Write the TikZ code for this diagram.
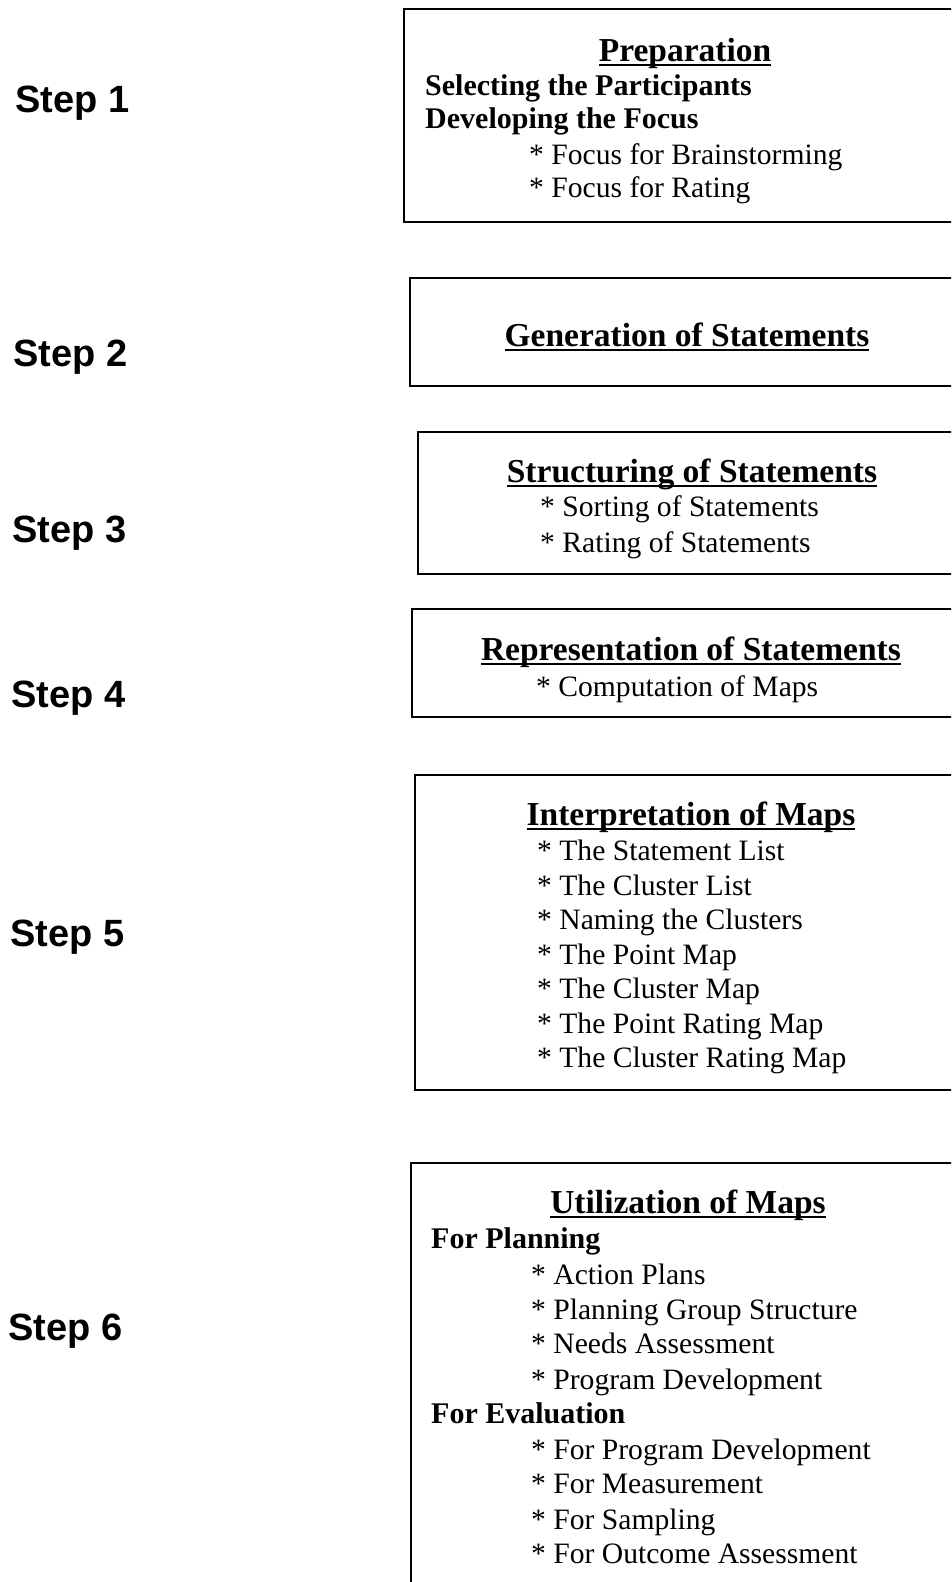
\documentclass[tikz,border=0pt]{standalone}
\usepackage{fontspec}
\setmainfont{Liberation Serif}
\newfontfamily\stepfont{Liberation Sans}
\newcommand\uln[1]{\setbox0\hbox{#1}\rlap{\rule[-5pt]{\wd0}{2.4pt}}\box0}
\tikzset{
  stepl/.style={anchor=base west, inner sep=0pt, font=\stepfont\bfseries\fontsize{38}{44}\selectfont},
  head/.style={anchor=base, inner sep=0pt, font=\bfseries\fontsize{33.5}{38}\selectfont},
  boldl/.style={anchor=base west, inner sep=0pt, font=\bfseries\fontsize{30}{34}\selectfont},
  item/.style={anchor=base west, inner sep=0pt, font=\fontsize{29.6}{34}\selectfont},
  box/.style={draw, line width=2pt},
}
\begin{document}
\begin{tikzpicture}[x=1pt,y=-1pt]
\clip (0,0) rectangle (951,1582);
\fill[white] (0,0) rectangle (951,1582);
% boxes
\draw[box] (960,9) -- (404,9) -- (404,222) -- (960,222);
\draw[box] (960,278) -- (410,278) -- (410,386) -- (960,386);
\draw[box] (960,432) -- (418,432) -- (418,574) -- (960,574);
\draw[box] (960,609) -- (412,609) -- (412,717) -- (960,717);
\draw[box] (960,775) -- (415,775) -- (415,1090) -- (960,1090);
\draw[box] (960,1163) -- (411,1163) -- (411,1600);
% step labels
\node[stepl] (s1) at (15,112) {Step 1};
\node[stepl] (s2) at (13,366) {Step 2};
\node[stepl] (s3) at (12,542) {Step 3};
\node[stepl] (s4) at (11,707) {Step 4};
\node[stepl] (s5) at (10,946) {Step 5};
\node[stepl] (s6) at (8,1340) {Step 6};
% box 1
\node[head] (h1) at (685,61) {\uln{Preparation}};
\node[boldl] (b1a) at (425,95) {Selecting the Participants};
\node[boldl] (b1b) at (425,128) {Developing the Focus};
\node[item] (i1a) at (529,164) {* Focus for Brainstorming};
\node[item] (i1b) at (529,197) {* Focus for Rating};
% box 2
\node[head] (h2) at (687,346) {\uln{Generation of Statements}};
% box 3
\node[head] (h3) at (692,482) {\uln{Structuring of Statements}};
\node[item] (i3a) at (540,516) {* Sorting of Statements};
\node[item] (i3b) at (540,552) {* Rating of Statements};
% box 4
\node[head] (h4) at (691,660) {\uln{Representation of Statements}};
\node[item] (i4a) at (536,696) {* Computation of Maps};
% box 5
\node[head] (h5) at (691,825) {\uln{Interpretation of Maps}};
\node[item] (i5a) at (537,860) {* The Statement List};
\node[item] (i5b) at (537,895) {* The Cluster List};
\node[item] (i5c) at (537,929) {* Naming the Clusters};
\node[item] (i5d) at (537,964) {* The Point Map};
\node[item] (i5e) at (537,998) {* The Cluster Map};
\node[item] (i5f) at (537,1033) {* The Point Rating Map};
\node[item] (i5g) at (537,1067) {* The Cluster Rating Map};
% box 6
\node[head] (h6) at (688,1213) {\uln{Utilization of Maps}};
\node[boldl] (b6a) at (431,1248) {For Planning};
\node[item] (i6a) at (531,1284) {* Action Plans};
\node[item] (i6b) at (531,1319) {* Planning Group Structure};
\node[item] (i6c) at (531,1353) {* Needs Assessment};
\node[item] (i6d) at (531,1389) {* Program Development};
\node[boldl] (b6b) at (431,1423) {For Evaluation};
\node[item] (i6e) at (531,1459) {* For Program Development};
\node[item] (i6f) at (531,1493) {* For Measurement};
\node[item] (i6g) at (531,1529) {* For Sampling};
\node[item] (i6h) at (531,1563) {* For Outcome Assessment};
\end{tikzpicture}
\end{document}
